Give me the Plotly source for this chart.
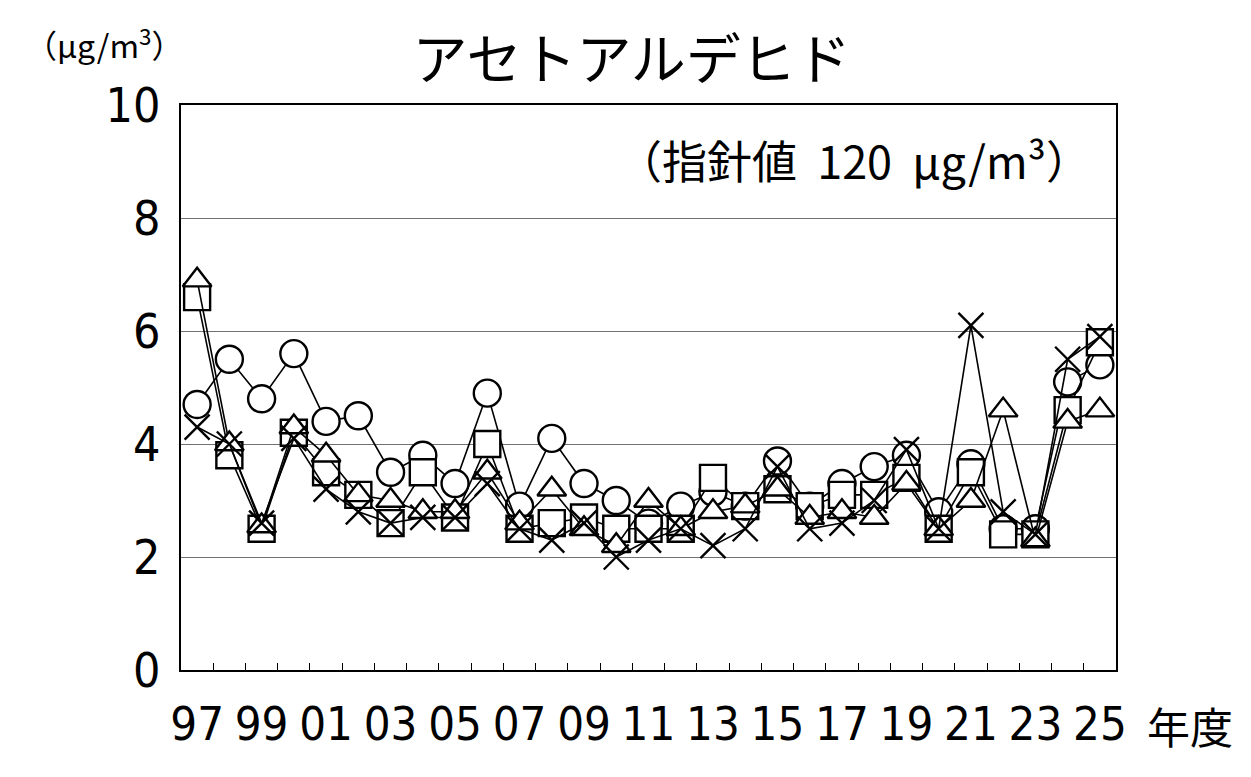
import plotly.graph_objects as go

years = ["97","98","99","00","01","02","03","04","05","06","07","08","09","10",
         "11","12","13","14","15","16","17","18","19","20","21","22","23","24","25"]

circle = [4.7,5.5,4.8,5.6,4.4,4.5,3.5,3.8,3.3,4.9,2.9,4.1,3.3,3.0,
          2.6,2.9,3.15,2.9,3.7,2.9,3.3,3.6,3.8,2.8,3.65,2.5,2.5,5.1,5.4]
square = [6.6,3.8,2.5,4.2,3.5,3.1,2.6,3.5,2.7,4.0,2.5,2.6,2.7,2.5,
          2.5,2.5,3.4,2.9,3.2,2.9,3.1,3.1,3.4,2.5,3.5,2.4,2.4,4.6,5.8]
triangle = [6.9,4.0,2.55,4.3,3.8,3.1,3.0,2.8,2.8,3.5,2.6,3.2,2.5,2.2,
            3.0,2.5,2.8,2.9,3.2,2.7,2.8,2.7,3.3,2.5,3.0,4.6,2.3,4.4,4.6]
cross = [4.3,4.0,2.6,4.1,3.2,2.8,2.6,2.7,2.7,3.3,2.5,2.3,2.6,2.0,
         2.3,2.5,2.2,2.5,3.6,2.5,2.6,3.0,3.9,2.5,6.1,2.8,2.4,5.5,5.9]

series = [("circle", circle, 27), ("square", square, 26),
          ("triangle-up", triangle, 25), ("x-thin", cross, 25)]

NUMFONT = "DejaVu Sans Condensed, Noto Sans CJK JP, sans-serif"
JPFONT = "Noto Sans CJK JP"

xs = list(range(len(years)))
fig = go.Figure()
for sym, vals, sz in series:
    if sym == "x-thin":
        mk = dict(symbol=sym, size=sz, color="black", line=dict(color="black", width=2.4))
    else:
        mk = dict(symbol=sym, size=sz, color="white", line=dict(color="black", width=2.4))
    fig.add_trace(go.Scatter(x=xs, y=vals, mode="lines+markers",
                             line=dict(color="black", width=1.6), marker=mk,
                             showlegend=False, cliponaxis=False))

fig.update_layout(
    width=1235, height=761,
    margin=dict(l=173, r=127, t=97, b=99),
    paper_bgcolor="white", plot_bgcolor="white",
    font=dict(family=NUMFONT, color="black"),
    title=dict(text="アセトアルデヒド", x=0.505, xanchor="center", y=0.932, yanchor="middle",
               font=dict(family=JPFONT, size=55, color="black")),
)
fig.update_xaxes(
    range=[-0.5, len(years) - 0.5],
    tickmode="array", tickvals=xs[::2], ticktext=years[::2],
    ticks="", showgrid=False, zeroline=False,
    showline=True, linecolor="black", linewidth=2, mirror=True,
    tickfont=dict(size=47, family=NUMFONT), ticklabelstandoff=12,
    minor=dict(tickmode="array", tickvals=[i + 0.5 for i in xs[:-1]], ticks="inside",
               ticklen=7, tickcolor="black", tickwidth=1, showgrid=False),
)
fig.update_yaxes(
    range=[0, 10], tickmode="linear", dtick=2,
    showgrid=True, gridcolor="#707070", gridwidth=1,
    zeroline=False, showline=True, linecolor="black", linewidth=2, mirror=True,
    ticks="", tickfont=dict(size=48, family=NUMFONT), ticklabelstandoff=9,
)
fig.add_annotation(text="（μg/m<sup>3</sup>）", xref="paper", yref="paper",
                   x=-0.082, y=1.11, xanchor="center", yanchor="middle", showarrow=False,
                   font=dict(size=32, family=JPFONT))
fig.add_annotation(text="（指針値  120  μg/m³）", xref="paper", yref="paper",
                   x=0.975, y=0.903, xanchor="right", yanchor="middle", showarrow=False,
                   font=dict(size=45, family=JPFONT))
fig.add_annotation(text="年度", xref="paper", yref="paper",
                   x=1.031, y=-0.097, xanchor="left", yanchor="middle", showarrow=False,
                   font=dict(size=43, family=JPFONT))

fig.write_html("out.html")
